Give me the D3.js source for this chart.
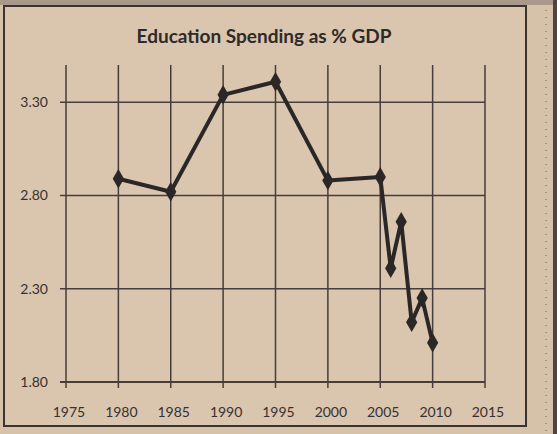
<!DOCTYPE html>
<html>
<head>
<meta charset="utf-8">
<script src="https://cdn.jsdelivr.net/npm/d3@7"></script>
<style>
  body { margin: 0; background: #d8c3ab; }
  svg { display: block; }
</style>
</head>
<body>
<svg id="chart" width="557" height="434"></svg>
<script>
// values
const years = [1980, 1985, 1990, 1995, 2000, 2005, 2006, 2007, 2008, 2009, 2010];
const spending = [2.89, 2.82, 3.34, 3.41, 2.88, 2.90, 2.41, 2.66, 2.12, 2.25, 2.01];
const xTicks = [1975, 1980, 1985, 1990, 1995, 2000, 2005, 2010, 2015];
const yTicks = [1.80, 2.30, 2.80, 3.30];

const ink = "#2c2727";
const grid = "#463e3b";
const font = "Lato, 'Open Sans', sans-serif";

const svg = d3.select("#chart");

// paper
svg.append("rect").attr("width", 557).attr("height", 434).attr("fill", "#d6c1a9");
svg.append("rect").attr("width", 557).attr("height", 5).attr("fill", "#a8998a");
svg.append("rect").attr("x", 553).attr("width", 4).attr("height", 434).attr("fill", "#4d4443");
// chart frame
svg.append("rect")
  .attr("x", 4).attr("y", 6).attr("width", 522).attr("height", 420)
  .attr("fill", "#dac6ae").attr("stroke", "#3a3330").attr("stroke-width", 2);
// faint dotted print line on the right
svg.append("line")
  .attr("x1", 546).attr("x2", 546).attr("y1", 10).attr("y2", 434)
  .attr("stroke", "#6b6158").attr("stroke-width", 1).attr("stroke-dasharray", "1,6");

const x = d3.scaleLinear().domain([1975, 2015]).range([66, 485]);
const y = d3.scaleLinear().domain([1.8, 3.5]).range([382, 65]);

svg.append("text")
  .attr("x", 264).attr("y", 43)
  .attr("text-anchor", "middle")
  .attr("font-family", font)
  .attr("font-weight", "bold").attr("font-size", 19)
  .attr("fill", "#2e2a2a")
  .text("Education Spending as % GDP");

// horizontal gridlines (with the left tick stubs)
svg.append("g").selectAll("line").data(yTicks).join("line")
  .attr("x1", x(1975) - 6).attr("x2", x(2015))
  .attr("y1", d => y(d)).attr("y2", d => y(d))
  .attr("stroke", grid).attr("stroke-width", d => d === 1.8 ? 2 : 1.5);

// vertical gridlines (with bottom tick stubs)
svg.append("g").selectAll("line").data(xTicks).join("line")
  .attr("x1", d => x(d)).attr("x2", d => x(d))
  .attr("y1", y(3.5)).attr("y2", y(1.8) + 6)
  .attr("stroke", grid).attr("stroke-width", 1.5);

svg.append("g").selectAll("text").data(yTicks).join("text")
  .attr("x", 48).attr("y", d => y(d)).attr("dy", "0.35em")
  .attr("text-anchor", "end")
  .attr("font-family", font)
  .attr("font-size", 14).attr("fill", "#363030")
  .text(d => d3.format(".2f")(d));

svg.append("g").selectAll("text").data(xTicks).join("text")
  .attr("x", d => x(d) + 3).attr("y", 417)
  .attr("text-anchor", "middle")
  .attr("font-family", font)
  .attr("font-size", 14).attr("fill", "#363030")
  .text(d => d);

const pts = years.map((yr, i) => [yr, spending[i]]);

svg.append("path")
  .datum(pts)
  .attr("fill", "none").attr("stroke", ink).attr("stroke-width", 4)
  .attr("stroke-linejoin", "round")
  .attr("d", d3.line().x(d => x(d[0])).y(d => y(d[1])));

svg.append("g").selectAll("path").data(pts).join("path")
  .attr("transform", d => `translate(${x(d[0])},${y(d[1])})`)
  .attr("d", d3.symbol(d3.symbolDiamond, 110)())
  .attr("fill", ink);
</script>
</body>
</html>
